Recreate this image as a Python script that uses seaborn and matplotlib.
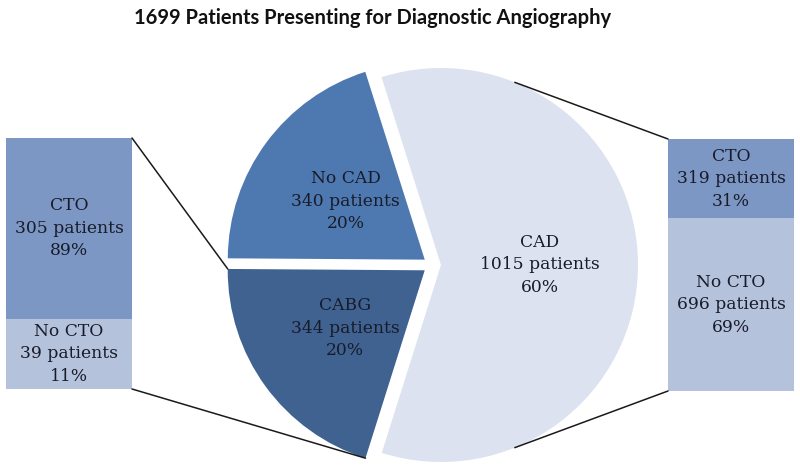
import numpy as np
import seaborn as sns
import matplotlib.pyplot as plt
from matplotlib.patches import ConnectionPatch

# main pie: patients presenting for diagnostic angiography
pie_labels = ["CAD", "No CAD", "CABG"]
pie_counts = [1015, 340, 344]
pie_pcts = [60, 20, 20]

# left bar: split of the CABG patients
left_labels = ["No CTO", "CTO"]
left_counts = [39, 305]
left_pcts = [11, 89]
left_shares = [0.28, 0.72]  # segment heights as drawn in the original

# right bar: split of the CAD patients
right_labels = ["No CTO", "CTO"]
right_counts = [696, 319]
right_pcts = [69, 31]

title = "1699 Patients Presenting for Diagnostic Angiography"

sns.set_theme(style="white")
plt.rcParams['font.family'] = ['DejaVu Serif']
txt_color = "#181b2a"
lab_size = 12.3
lab_spacing = 1.42

pie_colors = ["#dce2ef", "#4e79b0", "#3f6291"]
bar_colors = ["#b5c2dc", "#7d97c4"]

W, H = 800, 472
fig = plt.figure(figsize=(8, 4.72), dpi=100)
ax = fig.add_axes([0, 0, 1, 1])

# pie, drawn in pixel-like data coords (explode is in data units here)
label_iter = iter(zip(pie_labels, pie_counts, pie_pcts))
def pie_text(_pct):
    name, n, p = next(label_iter)
    return f"{name}\n{n} patients\n{p}%"

wedges, texts, autotexts = ax.pie(
    pie_counts, colors=pie_colors, startangle=-107.5, counterclock=True,
    center=(432, 207), radius=197, explode=[9, 9, 9],
    autopct=pie_text, pctdistance=0.5, frame=True,
    wedgeprops=dict(linewidth=0),
    textprops=dict(fontsize=lab_size, color=txt_color, linespacing=lab_spacing))
ax.set_xlim(0, W)
ax.set_ylim(0, H)
ax.set_aspect("auto")
ax.axis("off")

def stacked_bar(rect, heights, labels, counts, pcts):
    bax = fig.add_axes(rect)
    bottom = 0
    for h, c, lab, n, p in zip(heights, bar_colors, labels, counts, pcts):
        bax.bar(0, h, bottom=bottom, width=1, color=c, linewidth=0)
        bax.text(0, bottom + h / 2, f"{lab}\n{n} patients\n{p}%", ha="center",
                 va="center", fontsize=lab_size, color=txt_color,
                 linespacing=lab_spacing)
        bottom += h
    bax.set_xlim(-0.5, 0.5)
    bax.set_ylim(0, bottom)
    bax.axis("off")
    return bax

lax = stacked_bar([6 / W, (H - 389) / H, 126 / W, 251 / H], left_shares,
                  left_labels, left_counts, left_pcts)
rax = stacked_bar([668 / W, (H - 391) / H, 126 / W, 252 / H], right_counts,
                  right_labels, right_counts, right_pcts)

def wedge_point(w, ang):
    cx, cy = w.center
    a = np.deg2rad(ang)
    return (cx + w.r * np.cos(a), cy + w.r * np.sin(a))

cabg = wedges[2]
cad = wedges[0]
links = [
    (lax, (1, 1), wedge_point(cabg, cabg.theta1)),
    (lax, (1, 0), wedge_point(cabg, cabg.theta2)),
    (rax, (0, 1), wedge_point(cad, 68)),
    (rax, (0, 0), wedge_point(cad, -68)),
]
for bax, pa, pb in links:
    con = ConnectionPatch(xyA=pa, coordsA=bax.transAxes, xyB=pb,
                          coordsB=ax.transData, color="#1a1a1a", linewidth=1.1)
    fig.add_artist(con)

fig.text(373 / W, (H - 18) / H, title, ha="center", va="center",
         fontsize=14.5, fontweight="bold", family=["Lato", "DejaVu Sans"],
         color="#111111")

fig.savefig("out.png", dpi=100)
